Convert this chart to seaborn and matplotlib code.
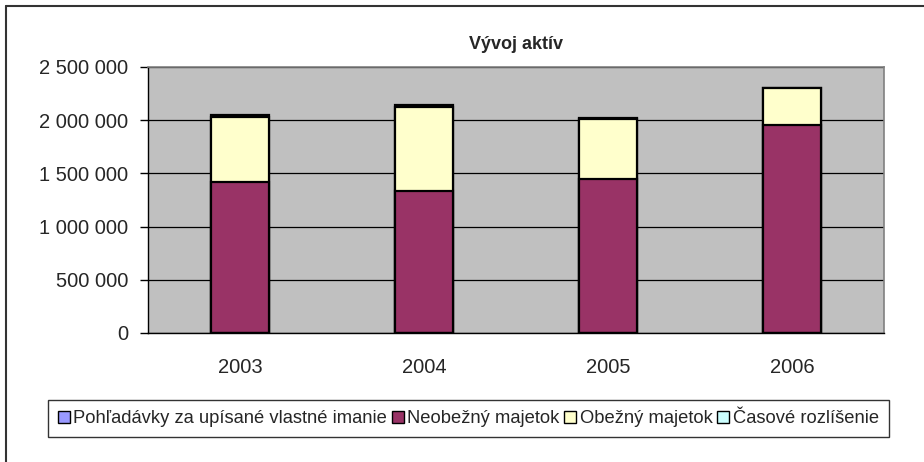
"""Stacked bar chart of assets development (Vývoj aktív), 2003-2006."""
import matplotlib
matplotlib.use("Agg")
import matplotlib.pyplot as plt
import matplotlib.ticker as mticker
from matplotlib.patches import Patch
from matplotlib.lines import Line2D
import pandas as pd
import seaborn as sns

years = ["2003", "2004", "2005", "2006"]
pohladavky = [0, 0, 0, 0]
neobezny = [1422000, 1335000, 1450000, 1952000]
obezny = [606000, 786000, 558000, 348000]
casove = [21000, 19000, 10000, 2000]

labels = ["Pohľadávky za upísané vlastné imanie", "Neobežný majetok",
          "Obežný majetok", "Časové rozlíšenie"]
colors = ["#9999FF", "#993366", "#FFFFCC", "#CCFFFF"]

df = pd.DataFrame({"rok": years, labels[0]: pohladavky, labels[1]: neobezny,
                   labels[2]: obezny, labels[3]: casove})

# cumulative heights, drawn from the top layer down so the lower ones cover them
cum = df[labels].cumsum(axis=1)

sns.set_theme(style="white")
plt.rcParams["font.family"] = ["Liberation Sans", "DejaVu Sans"]

fig = plt.figure(figsize=(9.24, 4.62), dpi=100)
ax = fig.add_axes([148 / 924, 129 / 462, 736 / 924, 266 / 462])
ax.set_facecolor("#C0C0C0")

for lab, col in reversed(list(zip(labels, colors))):
    sns.barplot(x=df["rok"], y=cum[lab], color=col, width=0.32, ax=ax,
                edgecolor="black", linewidth=1.6, saturation=1, zorder=3)

ax.set_ylim(0, 2500000)
ax.set_xlim(-0.5, 3.5)
ax.yaxis.set_major_locator(mticker.MultipleLocator(500000))
ax.yaxis.set_major_formatter(mticker.FuncFormatter(lambda v, p: f"{int(v):,}".replace(",", " ")))
ax.grid(axis="y", color="black", linewidth=0.9, zorder=1)
ax.set_axisbelow(True)
ax.set_xlabel("")
ax.set_ylabel("")

# x ticks sit on category boundaries, labels in the middle
ax.set_xticks([-0.5, 0.5, 1.5, 2.5, 3.5], minor=True)
ax.tick_params(axis="x", which="minor", length=6, width=1, color="black", direction="out")
ax.tick_params(axis="x", which="major", length=0, labelsize=14.5, pad=18)
ax.tick_params(axis="y", length=6, width=1, color="black", direction="out", labelsize=14.5, pad=8)
ax.tick_params(left=True, bottom=True)

for side in ["left", "bottom"]:
    ax.spines[side].set_color("black")
    ax.spines[side].set_linewidth(1)
for side in ["top", "right"]:
    ax.spines[side].set_color("#808080")
    ax.spines[side].set_linewidth(1.2)

ax.set_title("Vývoj aktív", fontsize=13, fontweight="bold", pad=13)

handles = [Patch(facecolor=c, edgecolor="black", linewidth=1) for c in colors]
fig.legend(handles, labels, loc="center", bbox_to_anchor=(0.507, 0.094), ncol=4,
           fontsize=13.2, frameon=True, fancybox=False, edgecolor="black",
           handlelength=0.65, handleheight=0.65, handletextpad=0.2, columnspacing=0.25,
           borderpad=0.55, borderaxespad=0).get_frame().set_linewidth(1)

# outer chart border (top and left visible, the rest runs off the picture)
fig.add_artist(Line2D([6 / 924, 1.0], [1 - 6 / 462, 1 - 6 / 462], color="#333333", linewidth=1.5))
fig.add_artist(Line2D([6 / 924, 6 / 924], [0.0, 1 - 6 / 462], color="#333333", linewidth=1.5))

fig.savefig("out.png", dpi=100, facecolor="white")
